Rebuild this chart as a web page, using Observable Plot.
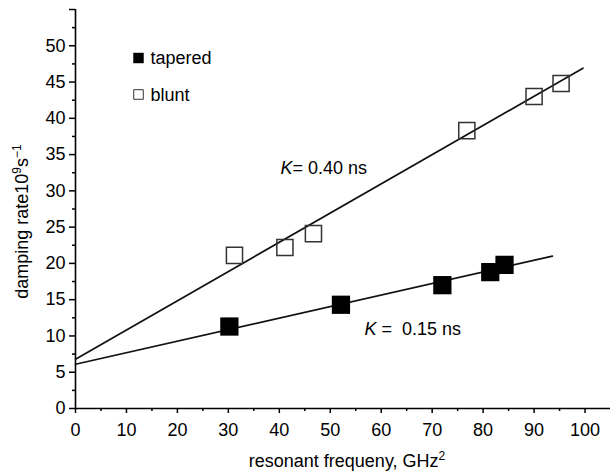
<!DOCTYPE html>
<html><head><meta charset="utf-8">
<script src="https://cdn.jsdelivr.net/npm/d3@7"></script>
<script src="https://cdn.jsdelivr.net/npm/@observablehq/plot@0.6"></script>
<style>body{margin:0;background:#fff} svg{display:block}</style>
</head><body><div id="chart"></div>
<script>
// ---- data ----
const taperedX = [30.2, 52.1, 72.0, 81.4, 84.2];
const taperedY = [11.3, 14.3, 17.0, 18.8, 19.8];
const bluntX = [31.2, 41.1, 46.7, 76.8, 90.0, 95.3];
const bluntY = [21.1, 22.2, 24.1, 38.3, 43.0, 44.8];
const bluntFitX = [0, 99.6];
const bluntFitY = [6.8, 46.9];
const taperedFitX = [0, 93.6];
const taperedFitY = [6.1, 21.0];
const xTicks = [0, 10, 20, 30, 40, 50, 60, 70, 80, 90, 100];
const xMinorTicks = [5, 15, 25, 35, 45, 55, 65, 75, 85, 95];
const yTicks = [0, 5, 10, 15, 20, 25, 30, 35, 40, 45, 50];
const yMinorTicks = [2.5, 7.5, 12.5, 17.5, 22.5, 27.5, 32.5, 37.5, 42.5, 47.5, 52.5];
const yEndTick = [55];
const seriesNames = ["tapered", "blunt"];
const fitLabels = ["K= 0.40 ns", "K =  0.15 ns"];
const xLabel = "resonant frequeny, GHz²";
const yLabel = "damping rate10⁹s⁻¹";

const rows = (xs, ys) => xs.map((x, i) => ({x, y: ys[i]}));
const font = "'Liberation Sans', Arial, Helvetica, sans-serif";

const plot = Plot.plot({
  width: 610, height: 475,
  marginLeft: 75, marginRight: 0, marginTop: 9, marginBottom: 67,
  style: {fontFamily: font, fontSize: "18px", color: "#000", background: "#fff", overflow: "visible"},
  x: {domain: [0, 105]},
  y: {domain: [0, 55]},
  marks: [
    Plot.axisX({ticks: xTicks, tickSize: 5, tickPadding: 10, label: null, strokeWidth: 1.5, fontSize: 18}),
    Plot.axisX({ticks: xMinorTicks, tickSize: 3, text: null, label: null, strokeWidth: 1.5}),
    Plot.axisY({ticks: yTicks, tickSize: 6, tickPadding: 4, label: null, strokeWidth: 1.5, fontSize: 18}),
    Plot.axisY({ticks: yMinorTicks, tickSize: 3, text: null, label: null, strokeWidth: 1.5}),
    Plot.axisY({ticks: yEndTick, tickSize: 6, text: null, label: null, strokeWidth: 1.5}),
    Plot.ruleY([0], {stroke: "#000", strokeWidth: 1.6}),
    Plot.ruleX([0], {stroke: "#000", strokeWidth: 1.6}),
    Plot.line(rows(bluntFitX, bluntFitY), {x: "x", y: "y", stroke: "#111", strokeWidth: 1.7}),
    Plot.line(rows(taperedFitX, taperedFitY), {x: "x", y: "y", stroke: "#111", strokeWidth: 1.7}),
    Plot.dot(rows(taperedX, taperedY), {x: "x", y: "y", symbol: "square", r: 10.3, fill: "#000", stroke: "none"}),
    Plot.dot(rows(bluntX, bluntY), {x: "x", y: "y", symbol: "square", r: 9.1, fill: "none", stroke: "#333", strokeWidth: 1.5}),
    // legend
    Plot.dot([seriesNames[0]], {frameAnchor: "top-left", dx: 63, dy: 48.5, symbol: "square", r: 5.9, fill: "#000", stroke: "none"}),
    Plot.dot([seriesNames[1]], {frameAnchor: "top-left", dx: 63, dy: 85, symbol: "square", r: 5.4, fill: "#fff", stroke: "#333", strokeWidth: 1}),
    Plot.text([seriesNames[0]], {frameAnchor: "top-left", dx: 75, dy: 54.3, lineAnchor: "bottom", textAnchor: "start", fontSize: 18}),
    Plot.text([seriesNames[1]], {frameAnchor: "top-left", dx: 75, dy: 91, lineAnchor: "bottom", textAnchor: "start", fontSize: 18}),
    // fit annotations
    Plot.text([fitLabels[0]], {frameAnchor: "top-left", dx: 205, dy: 164.3, lineAnchor: "bottom", textAnchor: "start", fontSize: 18}),
    Plot.text([fitLabels[1]], {frameAnchor: "top-left", dx: 289, dy: 325, lineAnchor: "bottom", textAnchor: "start", fontSize: 18}),
    // axis titles
    Plot.text([xLabel], {frameAnchor: "bottom", dx: 4, dy: 58.7, lineAnchor: "bottom", textAnchor: "middle", fontSize: 18}),
    Plot.text([yLabel], {frameAnchor: "left", dx: -48, dy: 12.5, rotate: -90, lineAnchor: "bottom", textAnchor: "middle", fontSize: 18})
  ]
});

// rich text: italic K and superscripts
d3.select(plot).selectAll("text").each(function() {
  const t = this.textContent;
  const sel = d3.select(this);
  const sup = (s) => s.append("tspan").attr("font-size", 12).attr("dy", -7);
  const back = (s) => s.append("tspan").attr("dy", 7);
  if (fitLabels.includes(t)) {
    sel.text(null);
    sel.append("tspan").attr("font-style", "italic").text("K");
    sel.append("tspan").text(t.slice(1));
  } else if (t === xLabel) {
    sel.text(null);
    sel.append("tspan").text("resonant frequeny, GHz");
    sup(sel).text("2");
  } else if (t === yLabel) {
    sel.text(null);
    sel.append("tspan").text("damping rate10");
    sup(sel).text("9");
    back(sel).text("s");
    sup(sel).text("\u22121");
  }
});

document.getElementById("chart").append(plot);
</script>
</body></html>
